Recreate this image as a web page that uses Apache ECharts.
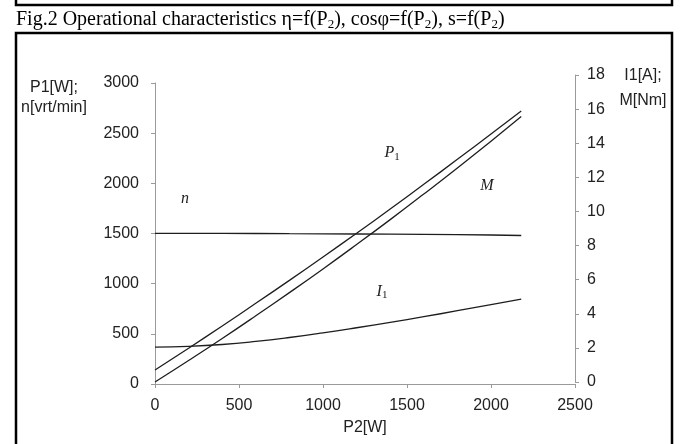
<!DOCTYPE html>
<html>
<head>
<meta charset="utf-8">
<script src="https://cdn.jsdelivr.net/npm/echarts@6/dist/echarts.min.js"></script>
<style>
  html, body { margin: 0; padding: 0; background: #fff; }
  #chart { width: 680px; height: 444px; }
</style>
</head>
<body>
<div id="chart"></div>
<script>
// P2[W] on x
const p2 = [0, 200, 400, 600, 800, 1000, 1200, 1400, 1600, 1800, 2000, 2180]
// left axis: P1[W] and n[vrt/min]
const p1 = [140, 357, 578, 804, 1033, 1266, 1503, 1744, 1990, 2239, 2492, 2720]
const speed = [1502, 1502, 1501, 1500, 1498, 1497, 1495, 1494, 1492, 1489, 1485, 1480]
// right axis: I1[A] and M[Nm]
const current = [2.05, 2.09, 2.2, 2.38, 2.61, 2.88, 3.18, 3.5, 3.83, 4.18, 4.54, 4.86]
const torque = [0, 1.26, 2.55, 3.88, 5.24, 6.63, 8.06, 9.52, 11.02, 12.55, 14.12, 15.56]

// where the curve names sit, in data units [P2, value]
const labelP1 = [1411, 2300]
const labelN = [179, 1845]
const labelM = [1976, 11.5]
const labelI1 = [1351, 5.3]

const sans = 'Liberation Sans, Arial, sans-serif'
const serif = 'Liberation Serif, Times New Roman, serif'
const lineColor = '#1e1e1e'
const axisColor = '#9a9a9a'

const pairs = (ys) => p2.map((x, i) => [x, ys[i]])
const plain = (v) => String(v)

const curveName = (coord, text) => ({
  symbol: 'rect',
  symbolSize: 1,
  silent: true,
  itemStyle: { color: 'rgba(0,0,0,0)' },
  label: {
    show: true,
    position: 'inside',
    formatter: text,
    color: '#222',
    rich: {
      i: { fontFamily: serif, fontStyle: 'italic', fontSize: 16, lineHeight: 19, color: '#222' },
      s: { fontFamily: serif, fontSize: 11, lineHeight: 11, verticalAlign: 'bottom', padding: [6, 0, 0, 0], color: '#222' }
    }
  },
  data: [{ coord: coord }]
})

const chart = echarts.init(document.getElementById('chart'))

chart.setOption({
  backgroundColor: '#fff',
  animation: false,
  grid: [
    { left: 155, right: 105, top: 83, bottom: 60 },
    { left: 155, right: 105, top: 75, bottom: 62 }
  ],
  xAxis: [{
    gridIndex: 0,
    type: 'value',
    min: 0,
    max: 2500,
    interval: 500,
    name: 'P2[W]',
    nameLocation: 'middle',
    nameGap: 36,
    nameTextStyle: { fontFamily: sans, fontSize: 16, color: '#222' },
    axisLine: { onZero: false, lineStyle: { color: axisColor, width: 1 } },
    axisTick: { show: true, length: 4, lineStyle: { color: axisColor } },
    axisLabel: { fontFamily: sans, fontSize: 16, color: '#222', margin: 14, formatter: plain },
    splitLine: { show: false }
  }, {
    gridIndex: 1,
    type: 'value',
    min: 0,
    max: 2500,
    interval: 500,
    show: false
  }],
  yAxis: [{
    gridIndex: 0,
    type: 'value',
    min: 0,
    max: 3000,
    interval: 500,
    axisLine: { show: true, onZero: false, lineStyle: { color: axisColor, width: 1 } },
    axisTick: { show: true, length: 4, lineStyle: { color: axisColor } },
    axisLabel: { fontFamily: sans, fontSize: 16, color: '#222', margin: 16, formatter: plain },
    splitLine: { show: false }
  }, {
    gridIndex: 1,
    type: 'value',
    position: 'right',
    min: 0,
    max: 18,
    interval: 2,
    axisLine: { show: true, onZero: false, lineStyle: { color: axisColor, width: 1 } },
    axisTick: { show: true, length: 4, lineStyle: { color: axisColor } },
    axisLabel: { fontFamily: sans, fontSize: 16, color: '#222', margin: 12, formatter: plain },
    splitLine: { show: false }
  }],
  series: [{
    name: 'P1',
    type: 'line',
    xAxisIndex: 0,
    yAxisIndex: 0,
    data: pairs(p1),
    showSymbol: false,
    smooth: true,
    lineStyle: { color: lineColor, width: 1.3 },
    markPoint: curveName(labelP1, '{i|P}{s|1}')
  }, {
    name: 'n',
    type: 'line',
    xAxisIndex: 0,
    yAxisIndex: 0,
    data: pairs(speed),
    showSymbol: false,
    lineStyle: { color: lineColor, width: 1.3 },
    markPoint: curveName(labelN, '{i|n}')
  }, {
    name: 'M',
    type: 'line',
    xAxisIndex: 1,
    yAxisIndex: 1,
    data: pairs(torque),
    showSymbol: false,
    smooth: true,
    lineStyle: { color: lineColor, width: 1.3 },
    markPoint: curveName(labelM, '{i|M}')
  }, {
    name: 'I1',
    type: 'line',
    xAxisIndex: 1,
    yAxisIndex: 1,
    data: pairs(current),
    showSymbol: false,
    smooth: true,
    lineStyle: { color: lineColor, width: 1.3 },
    markPoint: curveName(labelI1, '{i|I}{s|1}')
  }],
  graphic: [
    // bottom of the box above
    {
      type: 'polyline',
      shape: { points: [[16, 0], [16, 5], [672, 5], [672, 0]] },
      style: { stroke: '#000', lineWidth: 2.5, fill: null }
    },
    // frame round the chart
    {
      type: 'polyline',
      shape: { points: [[16, 444], [16, 33], [672, 33], [672, 444]] },
      style: { stroke: '#000', lineWidth: 2.5, fill: null }
    },
    {
      type: 'text',
      left: 16,
      top: 9,
      style: {
        text: 'Fig.2 Operational characteristics η=f(P{s|2}), cosφ=f(P{s|2}), s=f(P{s|2})',
        fontFamily: serif,
        fontSize: 20,
        lineHeight: 22,
        fill: '#000',
        rich: {
          s: { fontFamily: serif, fontSize: 13, lineHeight: 13, verticalAlign: 'bottom', padding: [6, 0, 0, 0] }
        }
      }
    },
    {
      type: 'text',
      x: 54,
      y: 98,
      style: {
        text: 'P1[W];\nn[vrt/min]',
        fontFamily: sans,
        fontSize: 16,
        lineHeight: 20,
        fill: '#222',
        align: 'center',
        verticalAlign: 'middle'
      }
    },
    {
      type: 'text',
      x: 643,
      y: 88,
      style: {
        text: 'I1[A];\nM[Nm]',
        fontFamily: sans,
        fontSize: 16,
        lineHeight: 25,
        fill: '#222',
        align: 'center',
        verticalAlign: 'middle'
      }
    }
  ]
})
</script>
</body>
</html>
